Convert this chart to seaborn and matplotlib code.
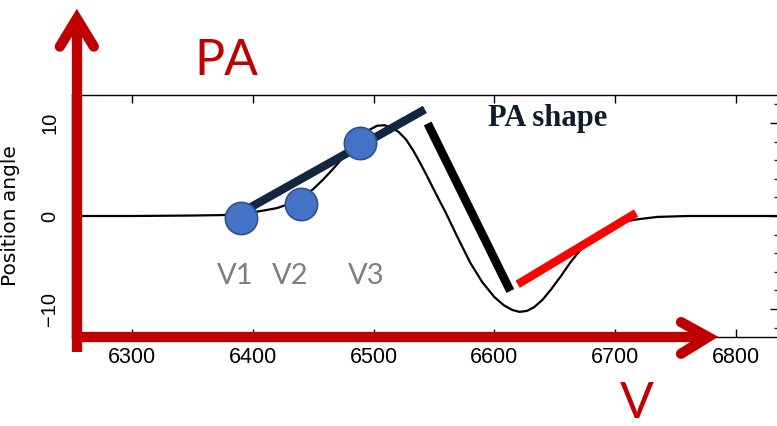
import numpy as np
import pandas as pd
import matplotlib
matplotlib.use("Agg")
import matplotlib.pyplot as plt
import seaborn as sns

# ---- data ----
velocity = [6250, 6300, 6350, 6375, 6390, 6405, 6420, 6432, 6442, 6450, 6458,
            6466, 6474, 6482, 6490, 6497, 6503, 6509, 6515, 6521, 6527, 6533,
            6539, 6545, 6552, 6560, 6570, 6580, 6590, 6600, 6608, 6615, 6621,
            6627, 6633, 6640, 6647, 6655, 6663, 6671, 6680, 6690, 6702, 6716,
            6735, 6760, 6836]
position_angle = [0.0, 0.0, 0.05, 0.1, 0.25, 0.5, 0.85, 1.4, 2.1, 2.9, 3.9,
                  5.0, 6.2, 7.4, 8.5, 9.3, 9.7, 9.75, 9.5, 9.0, 8.2, 7.0,
                  5.6, 4.1, 2.3, 0.3, -2.4, -5.0, -7.1, -8.7, -9.6, -10.1, -10.3,
                  -10.2, -9.8, -9.0, -7.9, -6.5, -5.0, -3.7, -2.5, -1.5, -0.8, -0.4,
                  -0.1, 0.0, 0.0]

point_labels = ["V1", "V2", "V3"]
point_x = [6390, 6440, 6489]
point_y = [-0.2, 1.3, 7.8]
label_x = [6385, 6431, 6494]
label_y = [-6.4, -6.4, -6.4]

rise_x = [6390, 6542.5]
rise_y = [0.35, 11.45]
fall_x = [6544.8, 6613.3]
fall_y = [9.94, -8.06]
recover_x = [6619.4, 6717.5]
recover_y = [-7.34, 0.32]

# hand-drawn axis arrows (data units)
pa_arrow_x = [6254.0, 6254.0]
pa_arrow_y = [-14.6, 21.2]
pa_head_x = [6239.9, 6254.0, 6268.1]
pa_head_y = [18.2, 21.2, 18.2]
v_arrow_x = [6250.6, 6777.2]
v_arrow_y = [-13.0, -13.0]
v_head_x = [6754.8, 6777.2, 6754.8]
v_head_y = [-11.4, -13.0, -14.8]

x_ticks = [6300, 6400, 6500, 6600, 6700, 6800]
y_ticks = [-10, 0, 10]
y_minor = [-12, -8, -6, -4, -2, 2, 4, 6, 8, 12]

# ---- figure ----
sns.set_style("ticks")
plt.rcParams["font.family"] = ["Liberation Sans", "DejaVu Sans"]

fig = plt.figure(figsize=(7.77, 4.26), dpi=100)
ax = fig.add_axes([72 / 777, 1 - 337 / 426, (779 - 72) / 777, 242 / 426])

df = pd.DataFrame({"v": velocity, "pa": position_angle})
sns.lineplot(data=df, x="v", y="pa", ax=ax, color="black", lw=1.6,
             sort=False, estimator=None, zorder=2)

ax.set_xlim(6250, 6836)
ax.set_ylim(-13, 13)
ax.set_xticks(x_ticks)
ax.set_yticks(y_ticks)
ax.set_yticks(y_minor, minor=True)
ax.set_xlabel("")
ax.set_ylabel("Position angle", family="DejaVu Sans", fontsize=14.5, color="black")
ax.yaxis.set_label_coords((20 - 72) / 707, 0.5)

for s in ax.spines.values():
    s.set_color("black")
    s.set_linewidth(1.0)

ax.tick_params(axis="x", which="major", direction="in", top=True, bottom=True,
               length=6, width=1, labelsize=15.5, pad=7, colors="black")
ax.tick_params(axis="y", which="major", direction="in", left=True, right=True,
               length=6.5, width=1, labelsize=14.5, pad=9, labelrotation=90,
               colors="black")
ax.tick_params(axis="y", which="minor", direction="in", left=True, right=True,
               length=3.6, width=1)
for lab in ax.get_yticklabels():
    lab.set_verticalalignment("center")

# overlay annotation lines
ax.plot(rise_x, rise_y, color="#12263f", lw=6, solid_capstyle="butt", zorder=4)
ax.plot(fall_x, fall_y, color="black", lw=6.2, solid_capstyle="butt", zorder=4)
ax.plot(recover_x, recover_y, color="#ff0000", lw=6, solid_capstyle="butt", zorder=4)

sns.scatterplot(x=point_x, y=point_y, ax=ax, s=540, color="#4472C4",
                edgecolor="#2F528F", linewidth=1.2, zorder=5, legend=False)

for lab, lx, ly in zip(point_labels, label_x, label_y):
    ax.text(lx, ly, lab, ha="center", va="center", fontsize=21,
            family="Lato", color="#7f7f7f", zorder=6)

ax.text(6644, 9.65, "PA shape", ha="center", va="baseline", fontsize=22,
        family="Liberation Serif", weight="bold", color="#0e1c2b", zorder=6)

# red axis arrows
red = "#C00000"
ax.plot(pa_arrow_x, pa_arrow_y, color=red, lw=7.4, solid_capstyle="butt",
        clip_on=False, zorder=7)
ax.plot(pa_head_x, pa_head_y, color=red, lw=7.4, solid_capstyle="round",
        solid_joinstyle="miter", clip_on=False, zorder=7)
ax.plot(v_arrow_x, v_arrow_y, color=red, lw=7.4, solid_capstyle="butt",
        clip_on=False, zorder=7)
ax.plot(v_head_x, v_head_y, color=red, lw=7.4, solid_capstyle="round",
        solid_joinstyle="miter", clip_on=False, zorder=7)

ax.text(6378, 16.7, "PA", ha="center", va="center", fontsize=36,
        family="Lato", color=red, clip_on=False, zorder=7)
ax.text(6718, -21.7, "V", ha="center", va="baseline", fontsize=36,
        family="Lato", color=red, clip_on=False, zorder=7)

fig.savefig("out.png", dpi=100)
